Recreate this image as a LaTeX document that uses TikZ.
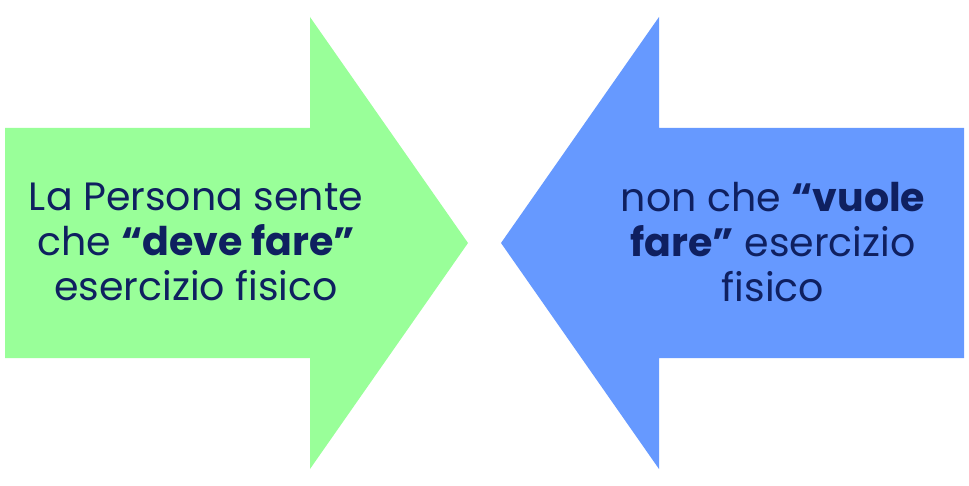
\documentclass[tikz,border=0pt]{standalone}
\usepackage{fontspec}
\setmainfont{Poppins}
\definecolor{arrowgreen}{HTML}{99FF99}
\definecolor{arrowblue}{HTML}{6699FF}
\definecolor{navytext}{HTML}{0F2060}
\begin{document}
\begin{tikzpicture}[x=1pt,y=-1pt,
  label text/.style={align=center, text=navytext, inner sep=0pt,
    font=\fontsize{39.5}{45}\selectfont}]
\useasboundingbox (0,0) rectangle (969,486);
\fill[arrowgreen] (5,128) -- (310,128) -- (310,17) -- (468,243) -- (310,469) -- (310,358) -- (5,358) -- cycle;
\fill[arrowblue] (964,128) -- (659,128) -- (659,17) -- (501,243) -- (659,469) -- (659,358) -- (964,358) -- cycle;
\node[label text] (lefttext) at (196,242) {La Persona sente\\che \textbf{“deve fare”}\\esercizio fisico};
\node[label text] (righttext) at (773,242) {non che \textbf{“vuole}\\\textbf{fare”} esercizio\\fisico};
\end{tikzpicture}
\end{document}
